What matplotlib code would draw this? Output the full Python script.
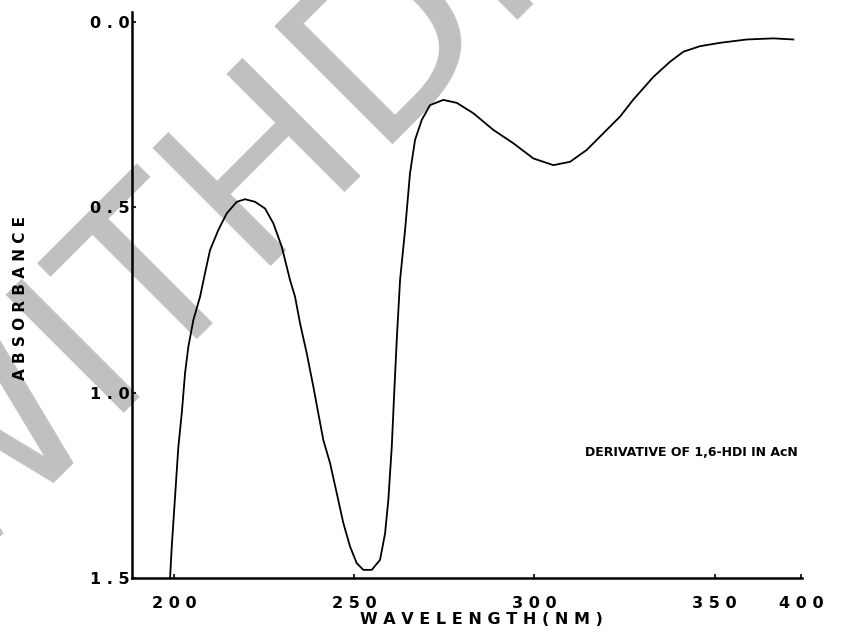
import matplotlib
matplotlib.use("Agg")
import matplotlib.pyplot as plt

# spectrum (wavelength in nm, absorbance axis is inverted)
wavelength = [198.95, 199.42, 200.33, 201.25, 202.19, 203.11, 204.02, 205.41, 207.27, 208.65,
              210.04, 212.34, 214.67, 217.44, 219.74, 222.52, 225.29, 227.59, 229.92, 232.22,
              233.61, 235.00, 236.86, 238.69, 240.07, 241.46, 243.32, 245.17, 247.01, 248.86,
              250.72, 252.55, 254.88, 257.18, 258.57, 259.48, 260.43, 261.06, 261.81, 262.73,
              264.12, 265.50, 266.89, 268.75, 271.05, 274.74, 278.45, 283.06, 288.60, 294.15,
              299.70, 305.24, 309.87, 314.50, 319.11, 323.74, 327.34, 332.97, 337.60, 341.29,
              345.92, 351.47, 358.87, 366.25, 371.80]
absorbance = [1.500, 1.415, 1.281, 1.146, 1.056, 0.947, 0.876, 0.804, 0.741, 0.677,
              0.615, 0.561, 0.516, 0.485, 0.478, 0.485, 0.503, 0.543, 0.606, 0.696,
              0.741, 0.813, 0.894, 0.984, 1.056, 1.128, 1.190, 1.271, 1.352, 1.415,
              1.460, 1.478, 1.478, 1.451, 1.380, 1.289, 1.146, 1.011, 0.858, 0.696,
              0.561, 0.407, 0.318, 0.264, 0.224, 0.210, 0.218, 0.246, 0.291, 0.327,
              0.368, 0.386, 0.377, 0.345, 0.300, 0.255, 0.210, 0.148, 0.107, 0.080,
              0.065, 0.056, 0.047, 0.044, 0.047]

x_ticks = [200, 250, 300, 350, 374]
x_tick_labels = ["200", "250", "300", "350", "400"]
y_ticks = [0.0, 0.5, 1.0, 1.5]
y_tick_labels = ["0.0", "0.5", "1.0", "1.5"]


def spaced(s):
    return " ".join(s)


fig = plt.figure(figsize=(8.43, 6.38), dpi=100)
ax = fig.add_axes([0.1566, 0.0940, 0.7948, 0.8871])
ax.patch.set_visible(False)

# grey "WITHDRAWN" stamp across the page
ax.text(-0.064, 0.086, "WITHDRAWN", transform=fig.transFigure, rotation=45,
        rotation_mode="anchor", ha="left", va="baseline", fontsize=165,
        color="#c0c0c0", zorder=0, clip_on=False)

ax.plot(wavelength, absorbance, color="black", linewidth=1.3, zorder=3,
        solid_joinstyle="round")

ax.set_xlim(188.4, 374.2)
ax.set_ylim(1.5, -0.027)

for side in ("top", "right"):
    ax.spines[side].set_visible(False)
for side in ("left", "bottom"):
    ax.spines[side].set_linewidth(1.8)
    ax.spines[side].set_zorder(4)

ax.set_xticks(x_ticks, labels=[spaced(t) for t in x_tick_labels])
ax.set_yticks(y_ticks, labels=[spaced(t) for t in y_tick_labels])
ax.tick_params(axis="both", direction="in", length=3, width=1.2, labelsize=11.5)
ax.tick_params(axis="x", pad=13)
ax.tick_params(axis="y", pad=2)
for lab in ax.get_xticklabels() + ax.get_yticklabels():
    lab.set_fontweight("bold")

ax.set_xlabel(spaced("WAVELENGTH(NM)"), fontsize=11.5, fontweight="bold", va="center")
ax.xaxis.set_label_coords(0.522, -0.074)
ax.set_ylabel(spaced("ABSORBANCE"), fontsize=11, fontweight="bold", va="center")
ax.yaxis.set_label_coords(-0.167, 0.495)

fig.text(0.694, 1 - 453 / 638, "DERIVATIVE OF 1,6-HDI IN AcN", fontsize=9,
         fontweight="bold", ha="left", va="center")

fig.savefig("out.png", dpi=100)
